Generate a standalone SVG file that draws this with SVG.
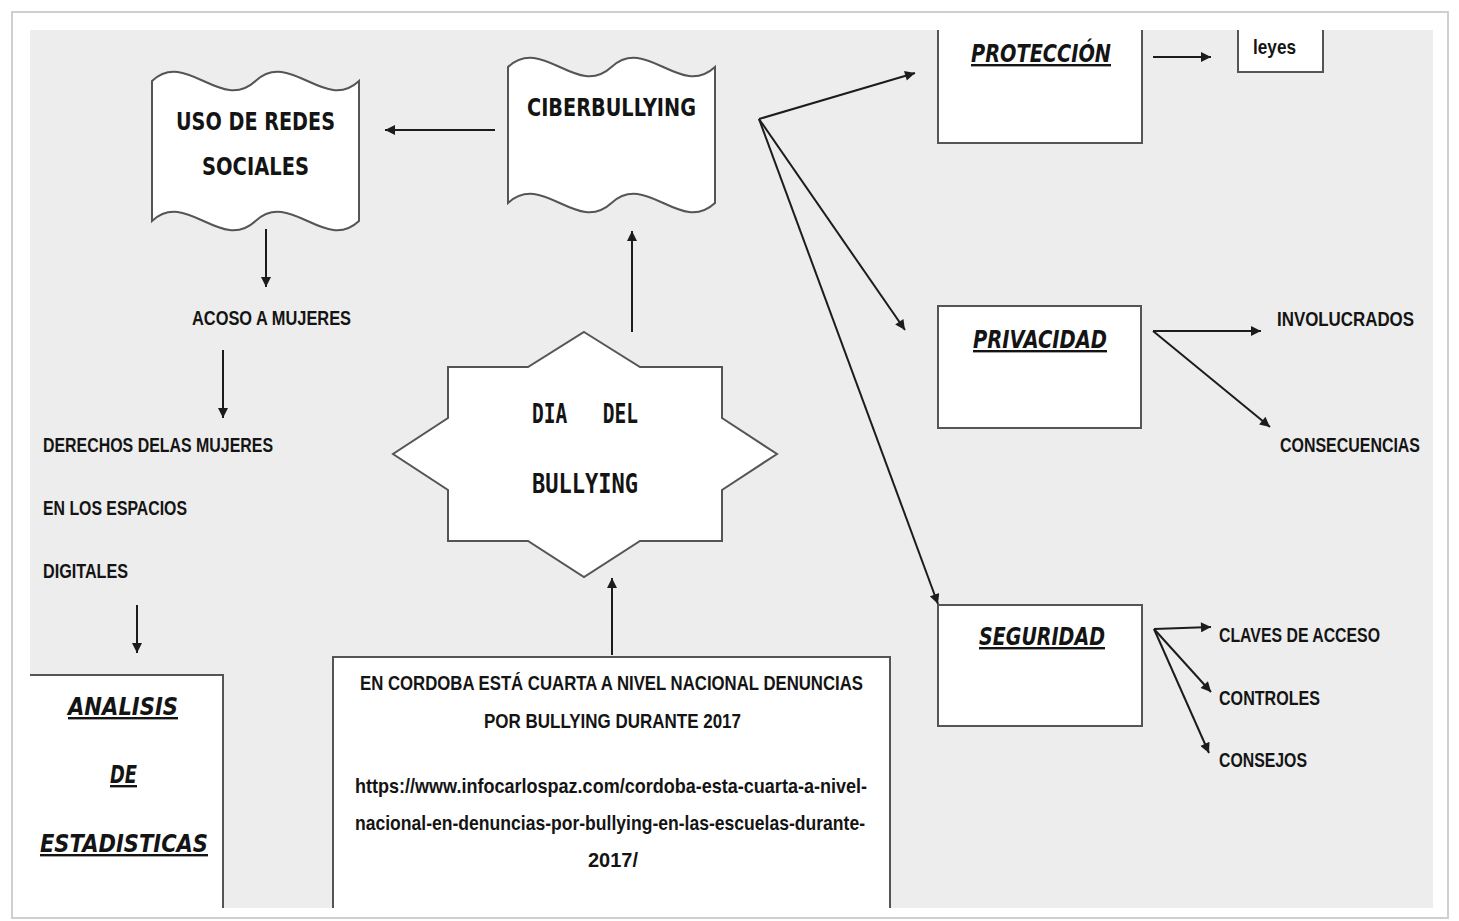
<svg xmlns="http://www.w3.org/2000/svg" width="1459" height="921" viewBox="0 0 1459 921">
<style>
.shape{fill:#ffffff;stroke:#555555;stroke-width:2}
.edge{stroke:#555555;stroke-width:2;fill:none}
.conn{stroke:#1c1c1c;stroke-width:2;fill:none;marker-end:url(#ah)}
.lbl{font-family:"Liberation Sans",Arial,sans-serif;font-weight:700;font-size:21px;fill:#141414}
.wav{font-family:"DejaVu Sans",Verdana,sans-serif;font-weight:700;font-size:24px;fill:#141414}
.hd{font-family:"DejaVu Sans",Verdana,sans-serif;font-weight:700;font-style:italic;font-size:24px;fill:#141414;text-decoration:underline}
.mono{font-family:"DejaVu Sans Mono","Liberation Mono",monospace;font-weight:700;font-size:26px;fill:#141414}
.box{font-family:"Liberation Sans",Arial,sans-serif;font-weight:700;font-size:21px;fill:#141414}
</style>
<defs>
<marker id="ah" viewBox="0 0 10 10" refX="10" refY="5" markerWidth="12" markerHeight="10" markerUnits="userSpaceOnUse" orient="auto">
<path d="M0,0 L10,5 L0,10 z" fill="#1c1c1c"/>
</marker>
</defs>
<rect x="0" y="0" width="1459" height="921" fill="#ffffff"/>
<rect x="12" y="12" width="1436" height="906" fill="#ffffff" stroke="#cfcfcf" stroke-width="2"/>
<rect x="30" y="30" width="1403" height="878" fill="#ededed"/>

<g id="uso-redes">
<path class="shape" d="M152,81 C186,49 221,113 255.5,81 C290,49 325,113 359,81 L359,221 C325,253 290,189 255.5,221 C221,253 186,189 152,221 Z"/>
<text class="wav" x="176" y="130" textLength="159" lengthAdjust="spacingAndGlyphs">USO DE REDES</text>
<text class="wav" x="202" y="175" textLength="107" lengthAdjust="spacingAndGlyphs">SOCIALES</text>
</g>

<g id="ciberbullying">
<path class="shape" d="M508,67 C542.5,35 577,99 611.5,67 C646,35 680.5,99 715,67 L715,203 C680.5,235 646,171 611.5,203 C577,235 542.5,171 508,203 Z"/>
<text class="wav" x="527" y="116" textLength="169" lengthAdjust="spacingAndGlyphs">CIBERBULLYING</text>
</g>

<g id="dia-bullying">
<polygon class="shape" points="584,332 640,367 722,367 722,418 777,454 722,490 722,541 640,541 584,577 528,541 448,541 448,490 393,454 448,418 448,367 528,367"/>
<text class="mono" x="532" y="423" xml:space="preserve" textLength="106" lengthAdjust="spacingAndGlyphs">DIA   DEL</text>
<text class="mono" x="532" y="493" textLength="106" lengthAdjust="spacingAndGlyphs">BULLYING</text>
</g>

<g id="acoso">
<text class="lbl" x="192" y="325" textLength="159" lengthAdjust="spacingAndGlyphs">ACOSO A MUJERES</text>
</g>

<g id="derechos">
<text class="lbl" x="43" y="452" textLength="230" lengthAdjust="spacingAndGlyphs">DERECHOS DELAS MUJERES</text>
<text class="lbl" x="43" y="515" textLength="144" lengthAdjust="spacingAndGlyphs">EN LOS ESPACIOS</text>
<text class="lbl" x="43" y="578" textLength="85" lengthAdjust="spacingAndGlyphs">DIGITALES</text>
</g>

<g id="analisis">
<rect x="30" y="675" width="193" height="233" fill="#ffffff"/>
<path class="edge" d="M30,675 H223 V908"/>
<text class="hd" x="68" y="715" textLength="110" lengthAdjust="spacingAndGlyphs">ANALISIS</text>
<text class="hd" x="110" y="783" textLength="27" lengthAdjust="spacingAndGlyphs">DE</text>
<text class="hd" x="40" y="852" textLength="168" lengthAdjust="spacingAndGlyphs">ESTADISTICAS</text>
</g>

<g id="cordoba">
<path class="shape" d="M333,908 V657 H890 V908"/>
<text class="box" x="360" y="690" textLength="503" lengthAdjust="spacingAndGlyphs">EN CORDOBA ESTÁ CUARTA A NIVEL NACIONAL DENUNCIAS</text>
<text class="box" x="484" y="728" textLength="257" lengthAdjust="spacingAndGlyphs">POR BULLYING DURANTE 2017</text>
<text class="box" x="355" y="793" textLength="512" lengthAdjust="spacingAndGlyphs">https://www.infocarlospaz.com/cordoba-esta-cuarta-a-nivel-</text>
<text class="box" x="355" y="830" textLength="510" lengthAdjust="spacingAndGlyphs">nacional-en-denuncias-por-bullying-en-las-escuelas-durante-</text>
<text class="box" x="588" y="867" textLength="50" lengthAdjust="spacingAndGlyphs">2017/</text>
</g>

<g id="proteccion">
<path class="shape" d="M938,30 V143 H1142 V30"/>
<text class="hd" x="971" y="62" textLength="140" lengthAdjust="spacingAndGlyphs">PROTECCIÓN</text>
</g>

<g id="leyes">
<path class="shape" d="M1238,30 V72 H1323 V30"/>
<text class="box" x="1253" y="54" font-weight="400" textLength="43" lengthAdjust="spacingAndGlyphs">leyes</text>
</g>

<g id="privacidad">
<rect class="shape" x="938" y="306" width="203" height="122"/>
<text class="hd" x="973" y="348" textLength="134" lengthAdjust="spacingAndGlyphs">PRIVACIDAD</text>
</g>

<g id="involucrados">
<text class="lbl" x="1277" y="326" textLength="137" lengthAdjust="spacingAndGlyphs">INVOLUCRADOS</text>
</g>
<g id="consecuencias">
<text class="lbl" x="1280" y="452" textLength="140" lengthAdjust="spacingAndGlyphs">CONSECUENCIAS</text>
</g>

<g id="seguridad">
<rect class="shape" x="938" y="605" width="204" height="121"/>
<text class="hd" x="979" y="645" textLength="126" lengthAdjust="spacingAndGlyphs">SEGURIDAD</text>
</g>

<g id="claves">
<text class="lbl" x="1219" y="642" textLength="161" lengthAdjust="spacingAndGlyphs">CLAVES DE ACCESO</text>
</g>
<g id="controles">
<text class="lbl" x="1219" y="705" textLength="101" lengthAdjust="spacingAndGlyphs">CONTROLES</text>
</g>
<g id="consejos">
<text class="lbl" x="1219" y="767" textLength="88" lengthAdjust="spacingAndGlyphs">CONSEJOS</text>
</g>

<g id="connectors">
<path class="conn" d="M495,130 H385"/>
<path class="conn" d="M266,229 V287"/>
<path class="conn" d="M223,350 V418"/>
<path class="conn" d="M137,605 V653"/>
<path class="conn" d="M632,332 V231"/>
<path class="conn" d="M612,655 V578"/>
<path class="conn" d="M759,119 L915,73"/>
<path class="conn" d="M759,119 L905,330"/>
<path class="conn" d="M759,119 L938,604"/>
<path class="conn" d="M1153,57 H1211"/>
<path class="conn" d="M1153,331 H1261"/>
<path class="conn" d="M1153,331 L1270,427"/>
<path class="conn" d="M1154,629 L1211,627"/>
<path class="conn" d="M1154,629 L1211,692"/>
<path class="conn" d="M1154,629 L1209,753"/>
</g>
</svg>
